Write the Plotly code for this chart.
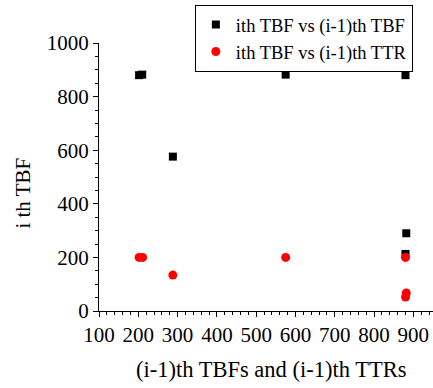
import plotly.graph_objects as go

tbf_x = [202, 210, 288, 575, 880, 882, 880]
tbf_y = [880, 882, 576, 882, 880, 290, 213]
ttr_x = [202, 211, 288, 575, 880, 882, 880]
ttr_y = [200, 200, 134, 200, 200, 67, 52]

x_title = "(i-1)th TBFs and (i-1)th TTRs"
y_title = "i th TBF"

font = "Liberation Serif, Times New Roman, serif"

fig = go.Figure()
fig.add_trace(go.Scatter(x=tbf_x, y=tbf_y, mode="markers", name="ith TBF vs (i-1)th TBF",
                         marker=dict(symbol="square", size=8, color="black")))
fig.add_trace(go.Scatter(x=ttr_x, y=ttr_y, mode="markers", name="ith TBF vs (i-1)th TTR",
                         marker=dict(symbol="circle", size=9, color="red")))

axis_common = dict(showgrid=False, zeroline=False, showline=True, linecolor="black", linewidth=1,
                   ticks="outside", ticklen=5, tickcolor="black", tickwidth=1,
                   tickfont=dict(family=font, size=21, color="black"),
                   minor=dict(ticks="outside", ticklen=3, tickcolor="black", tickwidth=1))

fig.update_xaxes(range=[100, 950], tick0=100, dtick=100, **axis_common)
fig.update_yaxes(range=[0, 1000], tick0=0, dtick=200, **axis_common)

fig.add_annotation(text=x_title, xref="paper", yref="paper", x=0.515, y=-0.22,
                   xanchor="center", yanchor="middle", showarrow=False,
                   font=dict(family=font, size=22.5, color="black"))
fig.add_annotation(text=y_title, xref="paper", yref="paper", x=-0.226, y=0.44,
                   xanchor="center", yanchor="middle", showarrow=False, textangle=-90,
                   font=dict(family=font, size=21, color="black"))

fig.update_layout(
    width=433, height=388,
    margin=dict(l=99, r=0, t=43, b=77),
    paper_bgcolor="white", plot_bgcolor="white",
    showlegend=True,
    legend=dict(x=0.287, y=1.142, xanchor="left", yanchor="top",
                bordercolor="black", borderwidth=1, bgcolor="white",
                font=dict(family=font, size=18.5, color="black"),
                tracegroupgap=0, itemwidth=30),
)

fig.write_html("out.html")
